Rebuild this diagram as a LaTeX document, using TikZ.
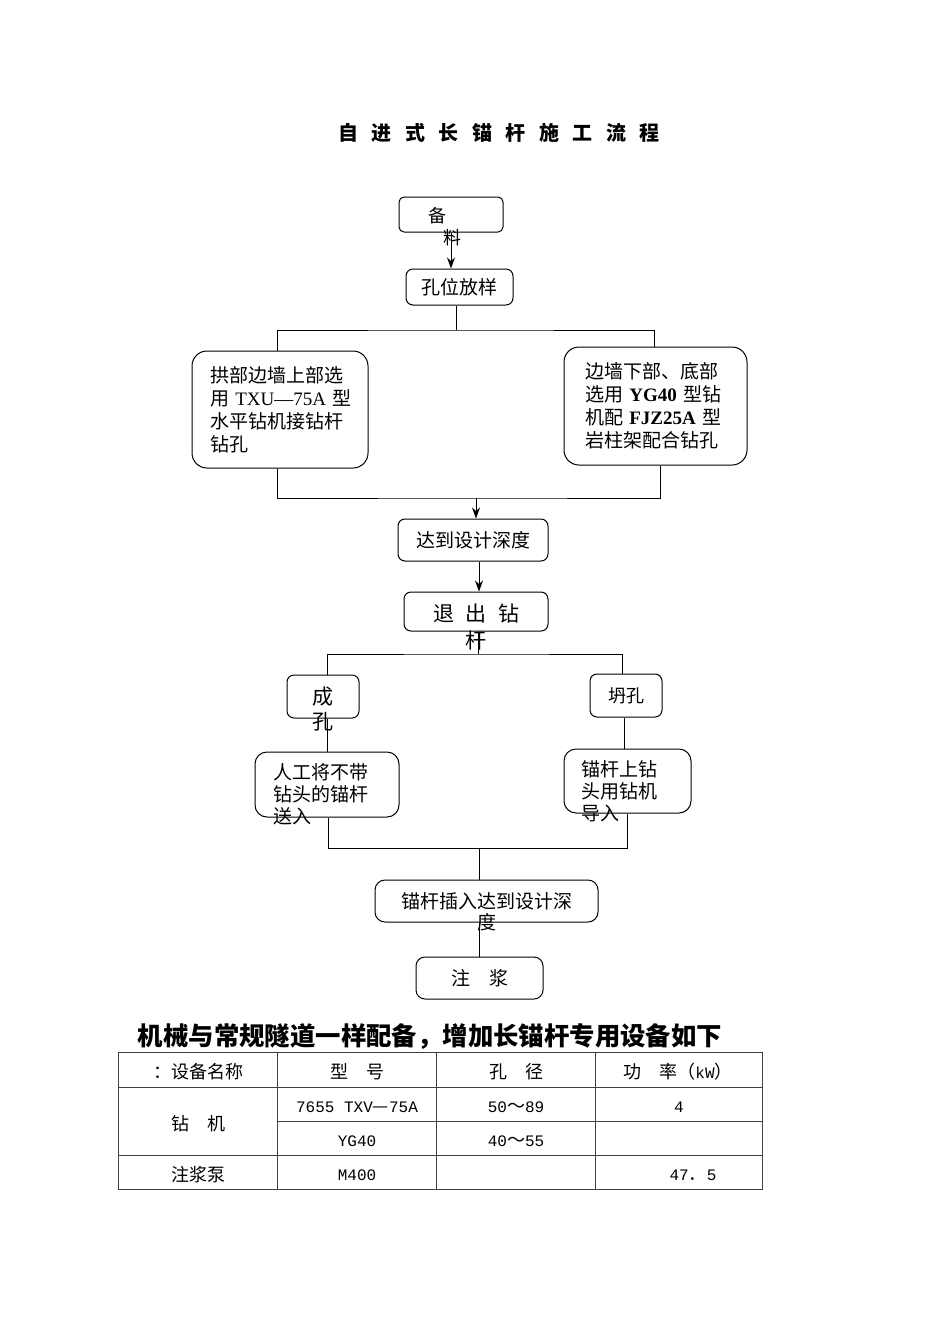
\documentclass[tikz,border=0pt]{standalone}
\usepackage{fontspec}
\setmainfont{Noto Sans CJK SC}
\newfontfamily\latfont{Liberation Serif}
\newfontfamily\tabfont{Liberation Mono}
\usetikzlibrary{arrows.meta}
\newcommand{\tgap}{\hspace{13.5pt}}
\tikzstyle{box} = [rectangle, rounded corners=7pt, draw=black, line width=1pt, inner sep=0pt, font=\fontsize{19}{23}\selectfont]
\tikzstyle{bigbox} = [box, rounded corners=15pt, align=left, text width=140pt]
\tikzstyle{txt} = [inner sep=0pt, font=\fontsize{19}{22}\selectfont]
\tikzstyle{line} = [line width=1pt]
\tikzstyle{arrow} = [line width=1pt,-{Stealth[length=11pt,width=8pt]}]
\tikzstyle{grid} = [line width=0.8pt, draw=black!75]
\tikzstyle{cell} = [inner sep=0pt, font=\fontsize{18}{20}\selectfont]
\begin{document}
\begin{tikzpicture}[x=1pt,y=-1pt]
\useasboundingbox (0,0) rectangle (950,1344);
% title
\node (title) [inner sep=0pt, font=\fontsize{20}{22}\selectfont\bfseries] at (499,133) {自\tgap 进\tgap 式\tgap 长\tgap 锚\tgap 杆\tgap 施\tgap 工\tgap 流\tgap 程};
% flow chart
\node (beiliao) [box, rounded corners=5pt, minimum width=104pt, minimum height=35pt] at (451,214.5) {};
\node (beiliao-a) [txt, font=\fontsize{18}{20}\selectfont] at (437,216) {备};
\node (beiliao-b) [txt, font=\fontsize{18}{20}\selectfont] at (452,238) {料};
\node (kwfy) [box, minimum width=107pt, minimum height=36pt] at (459.5,287) {孔位放样};
\node (gongbu) [bigbox, minimum width=176pt, minimum height=117pt] at (280,409.5) {拱部边墙上部选\\\mbox{用 {\latfont TXU—75A} 型}\\水平钻机接钻杆\\钻孔};
\node (youbu) [bigbox, text width=141pt, minimum width=183pt, minimum height=118pt] at (655.5,406) {边墙下部、底部\\\mbox{选用 {\latfont\bfseries YG40} 型钻}\\\mbox{机配 {\latfont\bfseries FJZ25A} 型}\\岩柱架配合钻孔};
\node (ddsj) [box, minimum width=150pt, minimum height=42pt] at (473,540) {达到设计深度};
\node (tcgz) [box, minimum width=144pt, minimum height=39pt] at (476,611.5) {};
\node (tcgz-t) [txt, align=center, font=\fontsize{21}{27}\selectfont] at (476,627.5) {退\hspace{11.5pt}出\hspace{11.5pt}钻\\杆};
\node (chengkong) [box, minimum width=72pt, minimum height=43pt] at (323,696.5) {};
\node (chengkong-t) [txt, align=center, font=\fontsize{21}{25}\selectfont] at (323,709.5) {成\\孔};
\node (tankong) [box, minimum width=72pt, minimum height=43pt, font=\fontsize{18}{20}\selectfont] at (626,695.5) {坍孔};
\node (rengong) [box, rounded corners=12pt, minimum width=144pt, minimum height=65pt] at (327,784.5) {};
\node (rengong-t) [txt, anchor=west, align=left] at (273,794) {人工将不带\\钻头的锚杆\\送入};
\node (maogan) [box, rounded corners=12pt, minimum width=127pt, minimum height=64pt] at (627.5,781) {};
\node (maogan-t) [txt, anchor=west, align=left] at (581,791) {锚杆上钻\\头用钻机\\导入};
\node (charu) [box, rounded corners=10pt, minimum width=223pt, minimum height=42pt] at (486.5,901) {};
\node (charu-t) [txt, align=center, font=\fontsize{19}{21}\selectfont] at (487,911.5) {锚杆插入达到设计深\\度};
\node (zhujiang) [box, rounded corners=9pt, minimum width=127pt, minimum height=42pt] at (479.5,978) {注\quad 浆};
% connectors
\coordinate (fen1) at (456,330);
\coordinate (he1) at (476,498);
\coordinate (fen2) at (478,654);
\coordinate (he2) at (479,848);
\draw [arrow] (beiliao.south) -- (beiliao.south |- kwfy.north);
\draw [line] (kwfy.south -| fen1) -- (fen1);
\draw [line] ([xshift=-3pt]gongbu.north) |- (fen1) -| ([xshift=-1.5pt]youbu.north);
\draw [line] ([xshift=-3pt]gongbu.south) |- (he1) -| ([xshift=4.5pt]youbu.south);
\draw [arrow] (he1) -- (he1 |- ddsj.north);
\draw [arrow] ([xshift=6pt]ddsj.south) -- ([xshift=6pt]ddsj.south |- tcgz.north);
\draw [line] (tcgz.south -| fen2) -- (fen2);
\draw [line] ([xshift=4pt]chengkong.north) |- (fen2) -| ([xshift=-4pt]tankong.north);
\draw [line] (rengong.north |- chengkong.south) -- (rengong.north);
\draw [line] ([xshift=-2pt]tankong.south) -- ([xshift=-2pt]tankong.south |- maogan.north);
\draw [line] ([xshift=1pt]rengong.south) |- (he2) -| (maogan.south);
\draw [line] (he2) -- (he2 |- charu.north);
\draw [line] (zhujiang.north |- charu.south) -- (zhujiang.north);
% equipment table
\node (heading) [inner sep=0pt, font=\fontsize{25.4}{27}\selectfont\bfseries] at (430,1036) {机械与常规隧道一样配备，增加长锚杆专用设备如下};
\draw [grid] (118,1052) rectangle (762,1189);
\foreach \x in {277,436,595} \draw [grid] (\x,1052) -- (\x,1189);
\draw [grid] (118,1087) -- (762,1087);
\draw [grid] (277,1121) -- (762,1121);
\draw [grid] (118,1155) -- (762,1155);
\node (h-name) [cell] at (198,1072) {：设备名称};
\node (h-type) [cell] at (357,1072) {型\quad 号};
\node (h-dia) [cell] at (516,1072) {孔\quad 径};
\node (h-pow) [cell] at (678,1072) {功\quad 率（{\tabfont\fontsize{16}{18}\selectfont kW}）};
\node (zj) [cell] at (198,1124) {钻\quad 机};
\node (zj-t1) [cell] at (357,1107) {{\tabfont\fontsize{16}{18}\selectfont 7655 TXV}—{\tabfont\fontsize{16}{18}\selectfont 75A}};
\node (zj-d1) [cell] at (516,1107) {{\tabfont\fontsize{16}{18}\selectfont 50}～{\tabfont\fontsize{16}{18}\selectfont 89}};
\node (zj-p1) [cell] at (679,1107) {{\tabfont\fontsize{16}{18}\selectfont 4}};
\node (zj-t2) [cell] at (357,1141) {{\tabfont\fontsize{16}{18}\selectfont YG40}};
\node (zj-d2) [cell] at (516,1141) {{\tabfont\fontsize{16}{18}\selectfont 40}～{\tabfont\fontsize{16}{18}\selectfont 55}};
\node (zjb) [cell] at (198,1175) {注浆泵};
\node (zjb-t) [cell] at (357,1175) {{\tabfont\fontsize{16}{18}\selectfont M400}};
\node (zjb-p) [cell] at (693,1175) {{\tabfont\fontsize{16}{18}\selectfont 47}．{\tabfont\fontsize{16}{18}\selectfont 5}};
\end{tikzpicture}
\end{document}
